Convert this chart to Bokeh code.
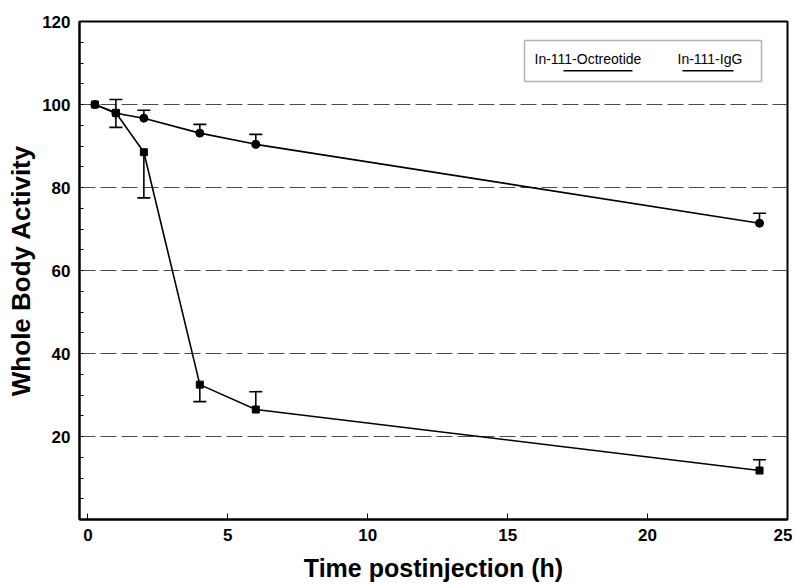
from bokeh.plotting import figure
from bokeh.models import (FixedTicker, Whisker, TeeHead, ColumnDataSource,
                          BoxAnnotation, Label, Range1d)
from bokeh.embed import file_html
from bokeh.resources import INLINE

# ---------------- data ----------------
time_h = [0.25, 1, 2, 4, 6, 24]
octreotide = [100, 98.0, 88.5, 32.5, 26.5, 11.8]
octreotide_err_up = [0, 0, 0, 0, 4.3, 2.6]
octreotide_err_down = [0, 3.5, 11.0, 4.1, 0, 0]
igg = [100, 97.9, 96.7, 93.1, 90.4, 71.4]
igg_err_up = [0, 3.3, 1.9, 2.1, 2.4, 2.4]
igg_err_down = [0, 0, 0, 0, 0, 0]
x_ticks = [0, 5, 10, 15, 20, 25]
y_ticks = [20, 40, 60, 80, 100, 120]
y_minor = [5, 10, 15, 25, 30, 35, 45, 50, 55, 65, 70, 75, 85, 90, 95, 105, 110, 115]
grid_levels = [20, 40, 60, 80, 100]
legend_labels = ["In-111-Octreotide", "In-111-IgG"]

FONT = "Liberation Sans"

p = figure(width=792, height=584, x_range=Range1d(-0.3, 25), y_range=Range1d(0, 120),
           output_backend="svg", toolbar_location=None,
           min_border_left=79, min_border_right=5, min_border_top=21, min_border_bottom=63)
p.background_fill_color = "white"
p.border_fill_color = "white"
p.outline_line_color = "black"
p.outline_line_width = 2

# axes
p.xaxis.ticker = FixedTicker(ticks=x_ticks)
p.xaxis.major_tick_in = 6
p.xaxis.major_tick_out = 0
p.xaxis.minor_tick_in = 0
p.xaxis.minor_tick_out = 0
p.xaxis.axis_line_width = 2
p.xaxis.major_label_standoff = 9
p.xaxis.axis_label = "Time postinjection (h)"
p.xaxis.axis_label_standoff = 10

p.yaxis.ticker = FixedTicker(ticks=y_ticks, minor_ticks=y_minor)
p.yaxis.major_tick_in = 4
p.yaxis.major_tick_out = 0
p.yaxis.minor_tick_in = 4
p.yaxis.minor_tick_out = 0
p.yaxis.axis_line_width = 2
p.yaxis.major_label_standoff = 9
p.yaxis.axis_label = "Whole Body Activity"
p.yaxis.axis_label_standoff = 3

for ax in (p.xaxis[0], p.yaxis[0]):
    ax.major_label_text_font = FONT
    ax.major_label_text_font_style = "bold"
    ax.major_label_text_font_size = "17px"
    ax.major_label_text_color = "black"
    ax.axis_label_text_font = FONT
    ax.axis_label_text_font_style = "bold"
    ax.axis_label_text_color = "black"
    ax.axis_line_color = "black"
    ax.major_tick_line_color = "black"
    ax.minor_tick_line_color = "black"
p.xaxis.axis_label_text_font_size = "25px"
p.yaxis.axis_label_text_font_size = "26px"

# grid
p.xgrid.visible = False
p.ygrid.ticker = FixedTicker(ticks=grid_levels)
p.ygrid.grid_line_color = "#4a4a4a"
p.ygrid.grid_line_dash = "16 5"
p.ygrid.grid_line_width = 1

# series
p.line(time_h, octreotide, line_color="black", line_width=1.6)
p.scatter(time_h, octreotide, marker="square", size=7, fill_color="black", line_color="black")
p.line(time_h, igg, line_color="black", line_width=1.6)
p.scatter(time_h, igg, marker="circle", size=8, fill_color="black", line_color="black")


def add_whiskers(vals, err, up):
    t = [x for x, e in zip(time_h, err) if e > 0]
    v = [y for y, e in zip(vals, err) if e > 0]
    e = [e for e in err if e > 0]
    if not t:
        return
    if up:
        src = ColumnDataSource(dict(t=t, lo=v, hi=[a + b for a, b in zip(v, e)]))
        w = Whisker(base="t", lower="lo", upper="hi", source=src, dimension="height",
                    line_color="black", line_width=1.6,
                    upper_head=TeeHead(size=13, line_width=1.6, line_color="black"),
                    lower_head=None)
    else:
        src = ColumnDataSource(dict(t=t, hi=v, lo=[a - b for a, b in zip(v, e)]))
        w = Whisker(base="t", lower="lo", upper="hi", source=src, dimension="height",
                    line_color="black", line_width=1.6,
                    lower_head=TeeHead(size=13, line_width=1.6, line_color="black"),
                    upper_head=None)
    p.add_layout(w)


add_whiskers(octreotide, octreotide_err_up, True)
add_whiskers(octreotide, octreotide_err_down, False)
add_whiskers(igg, igg_err_up, True)
add_whiskers(igg, igg_err_down, False)

# custom legend (screen units relative to frame, y upward from frame bottom)
FH = 584 - 21 - 63  # frame height in px


def sy(from_top):
    return FH - from_top


p.add_layout(BoxAnnotation(left=445, right=682, top=sy(21), bottom=sy(62),
                           left_units="screen", right_units="screen",
                           top_units="screen", bottom_units="screen",
                           fill_color="white", fill_alpha=1,
                           line_color="black", line_width=1.5))
for txt, lx in zip(legend_labels, [455, 598]):
    p.add_layout(Label(x=lx, y=sy(39), x_units="screen", y_units="screen", text=txt,
                       text_font=FONT, text_font_size="14px", text_color="black",
                       text_baseline="alphabetic"))
for l, r in [(484, 553), (603, 654)]:
    p.add_layout(BoxAnnotation(left=l, right=r, top=sy(50.5), bottom=sy(52),
                               left_units="screen", right_units="screen",
                               top_units="screen", bottom_units="screen",
                               fill_color="black", fill_alpha=1, line_color=None))

open("out.html", "w").write(file_html(p, INLINE))
